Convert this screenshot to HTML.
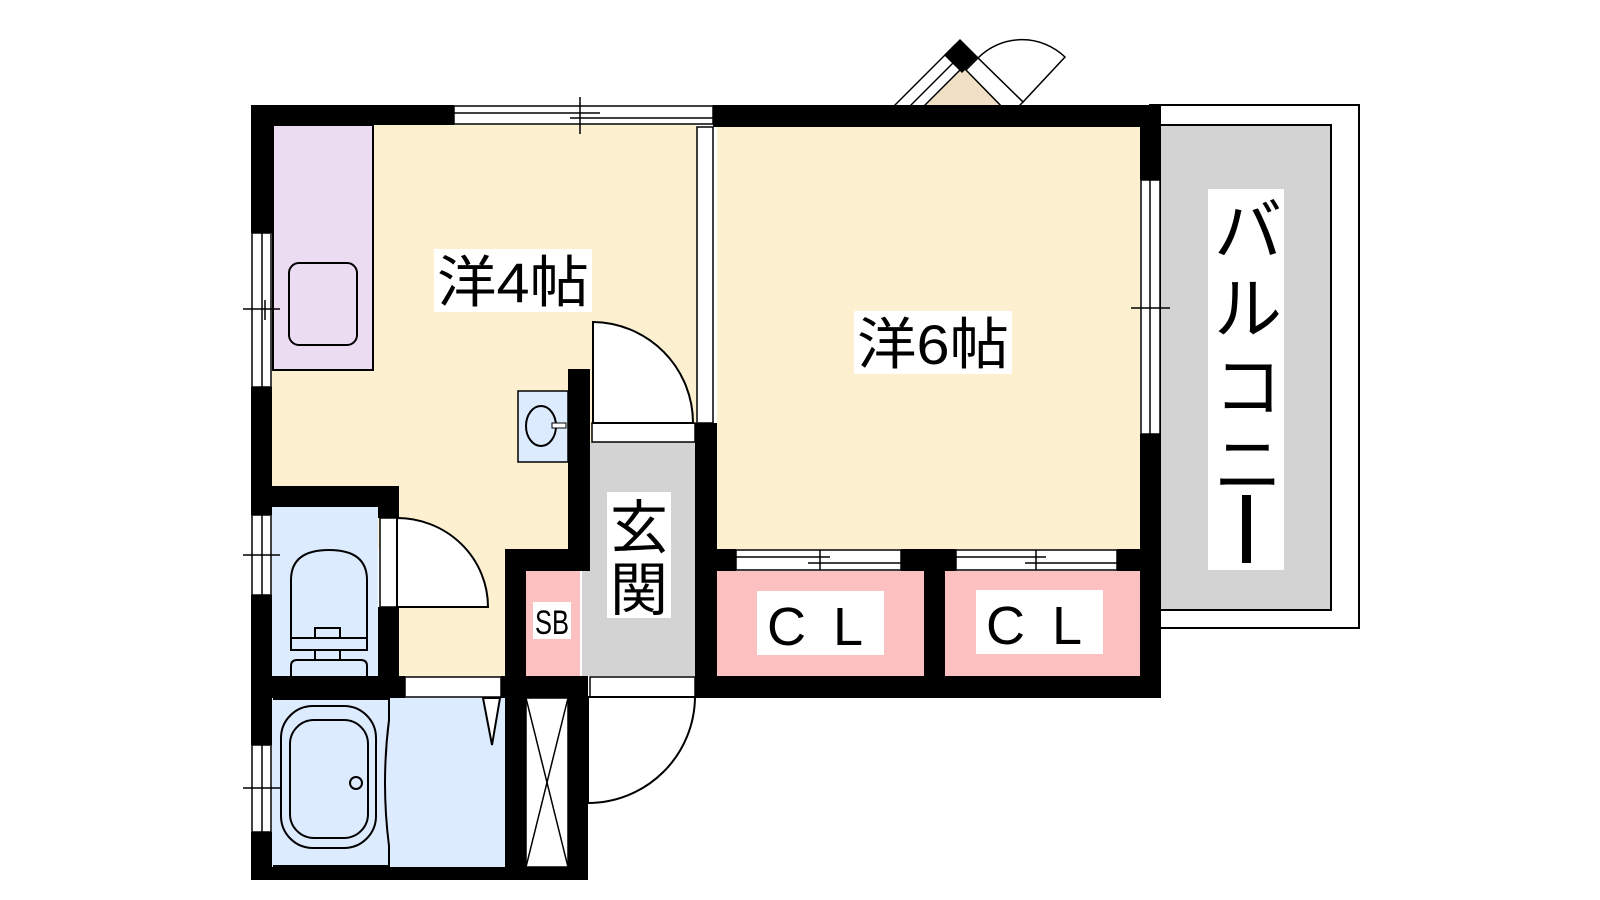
<!DOCTYPE html>
<html><head><meta charset="utf-8"><style>html,body{margin:0;padding:0;background:#fff;width:1600px;height:900px;overflow:hidden}svg{display:block}text{font-family:"Liberation Sans","Noto Sans CJK JP",sans-serif;fill:#000}</style></head><body>
<svg width="1600" height="900" viewBox="0 0 1600 900" xmlns="http://www.w3.org/2000/svg">
<!-- balcony -->
<rect x="1150" y="105" width="209" height="523" fill="#fff" stroke="#000" stroke-width="2"/>
<rect x="1160" y="125" width="171" height="485" fill="#d3d3d3" stroke="#000" stroke-width="2"/>
<!-- room fills -->
<rect x="272" y="125" width="425" height="424" fill="#fdf0d0"/>
<rect x="399" y="507" width="106" height="170" fill="#fdf0d0"/>
<rect x="717" y="127" width="423" height="422" fill="#fdf0d0"/>
<rect x="273" y="125" width="100" height="245" fill="#ecdcf2" stroke="#000" stroke-width="2"/>
<rect x="289" y="263" width="68" height="82" rx="10" fill="none" stroke="#000" stroke-width="2"/>
<rect x="582" y="442" width="113" height="234" fill="#d3d3d3"/>
<rect x="526" y="571" width="54" height="105" fill="#fdc0c0"/>
<rect x="717" y="571" width="207" height="105" fill="#fdc0c0"/>
<rect x="945" y="571" width="195" height="105" fill="#fdc0c0"/>
<rect x="272" y="507" width="106" height="169" fill="#dcebfd"/>
<rect x="272" y="698" width="233" height="169" fill="#dcebfd"/>
<rect x="526" y="698" width="42" height="169" fill="#fff" stroke="#000" stroke-width="1.5"/>
<line x1="526" y1="698" x2="568" y2="867" stroke="#000" stroke-width="1.5"/>
<line x1="568" y1="698" x2="526" y2="867" stroke="#000" stroke-width="1.5"/>
<!-- bay window -->
<polygon points="905,112 960,62 1012,112" fill="#f0e0c6"/>
<g stroke="#000" stroke-width="1.5">
<polygon points="895,105 955,45 970,60 910,120" fill="#fff"/>
<line x1="903" y1="113" x2="963" y2="53"/>
<path d="M978 58 A62 62 0 0 1 1065 57 L1023 102 Z" fill="#fff"/>
<polygon points="966,70 978,58 1023,102 1010,115" fill="#fff"/>
<polygon points="945,55 960,40 977,57 962,72" fill="#000"/>
</g>
<!-- walls -->
<g fill="#000">
<rect x="251" y="105" width="203" height="20"/>
<rect x="713" y="105" width="448" height="22"/>
<rect x="251" y="105" width="21" height="128"/>
<rect x="251" y="387" width="21" height="128"/>
<rect x="251" y="595" width="21" height="150"/>
<rect x="251" y="832" width="21" height="48"/>
<rect x="251" y="486" width="148" height="21"/>
<rect x="378" y="486" width="21" height="32"/>
<rect x="378" y="607" width="21" height="70"/>
<rect x="251" y="676" width="154" height="22"/>
<rect x="251" y="867" width="337" height="13"/>
<rect x="505" y="549" width="21" height="331"/>
<rect x="505" y="549" width="85" height="22"/>
<rect x="568" y="369" width="22" height="202"/>
<rect x="568" y="676" width="20" height="204"/>
<rect x="501" y="676" width="87" height="22"/>
<rect x="695" y="423" width="22" height="275"/>
<rect x="695" y="676" width="466" height="22"/>
<rect x="924" y="549" width="21" height="149"/>
<rect x="717" y="549" width="19" height="22"/>
<rect x="901" y="549" width="55" height="22"/>
<rect x="1117" y="549" width="44" height="22"/>
<rect x="1140" y="105" width="21" height="75"/>
<rect x="1140" y="434" width="21" height="264"/>
</g>
<!-- windows -->
<g fill="#fff" stroke="#000" stroke-width="1.5">
<rect x="454" y="106" width="259" height="18"/>
<rect x="252" y="233" width="19" height="154"/>
<rect x="252" y="515" width="19" height="80"/>
<rect x="252" y="745" width="19" height="87"/>
<rect x="1141" y="180" width="19" height="254"/>
<rect x="697" y="127" width="16" height="296"/>
<rect x="736" y="550" width="165" height="20"/>
<rect x="956" y="550" width="161" height="20"/>
<rect x="592" y="423" width="103" height="19"/>
<rect x="380" y="518" width="17" height="89"/>
<rect x="405" y="677" width="96" height="20"/>
<rect x="590" y="677" width="105" height="20"/>
</g>
<g stroke="#000" stroke-width="1.5" fill="none">
<line x1="454" y1="113" x2="600" y2="113"/><line x1="570" y1="118" x2="713" y2="118"/><line x1="580" y1="97" x2="580" y2="134"/>
<line x1="262" y1="233" x2="262" y2="387"/><line x1="243" y1="309" x2="280" y2="309"/><line x1="265" y1="300" x2="265" y2="320"/>
<line x1="262" y1="515" x2="262" y2="595"/><line x1="243" y1="555" x2="280" y2="555"/>
<line x1="262" y1="745" x2="262" y2="832"/><line x1="243" y1="788" x2="280" y2="788"/>
<line x1="1150" y1="180" x2="1150" y2="434"/><line x1="1131" y1="308" x2="1170" y2="308"/>
<line x1="736" y1="557" x2="830" y2="557"/><line x1="808" y1="563" x2="901" y2="563"/><line x1="820" y1="550" x2="820" y2="570"/>
<line x1="956" y1="557" x2="1046" y2="557"/><line x1="1025" y1="563" x2="1117" y2="563"/><line x1="1036" y1="550" x2="1036" y2="570"/>
</g>
<!-- doors -->
<g fill="#fff" stroke="#000" stroke-width="2">
<path d="M593 423 L593 322 A101 101 0 0 1 693 423 Z"/>
<path d="M397 607 L397 518 A91 89 0 0 1 488 607 Z"/>
<path d="M588 697 L695 697 A107 107 0 0 1 588 803 Z"/>
<path d="M483 698 L500 698 L492 745 Z"/>
</g>
<!-- basin -->
<rect x="518" y="391" width="50" height="71" fill="#dcebfd" stroke="#000" stroke-width="1.5"/>
<ellipse cx="541" cy="426" rx="15" ry="20" fill="none" stroke="#000" stroke-width="2"/>
<rect x="552" y="423" width="14" height="5" fill="#fff" stroke="#000" stroke-width="1"/>
<!-- toilet -->
<g fill="none" stroke="#000" stroke-width="2">
<path d="M291 638 L291 580 Q291 550 329 550 Q367 550 367 580 L367 638 Z"/>
<path d="M291 638 L315 638 L315 628 L340 628 L340 638 L367 638 L367 650 L291 650 Z"/>
<path d="M291 676 L291 666 Q291 660 297 660 L361 660 Q367 660 367 666 L367 676"/>
<line x1="315" y1="650" x2="315" y2="660"/><line x1="340" y1="650" x2="340" y2="660"/>
</g>
<!-- bath -->
<g fill="none" stroke="#000" stroke-width="2">
<path d="M273 699 L389 699 L389 720 Q381 783 389 846 L389 866 L273 866"/>
<rect x="281" y="706" width="95" height="142" rx="32"/>
<rect x="290" y="720" width="78" height="118" rx="24"/>
<circle cx="356" cy="783" r="6"/>
</g>
<!-- labels -->
<rect x="434" y="249" width="158" height="63" fill="#fff"/>
<text x="437" y="302" font-size="56" textLength="152" lengthAdjust="spacingAndGlyphs">洋4帖</text>
<rect x="854" y="311" width="158" height="63" fill="#fff"/>
<text x="857" y="364" font-size="56" textLength="152" lengthAdjust="spacingAndGlyphs">洋6帖</text>
<rect x="607" y="492" width="64" height="126" fill="#fff"/>
<text x="610" y="548" font-size="58">玄</text>
<text x="610" y="610" font-size="58">関</text>
<rect x="533" y="602" width="38" height="37" fill="#fff"/>
<text x="535" y="634" font-size="34" textLength="34" lengthAdjust="spacingAndGlyphs">SB</text>
<rect x="757" y="591" width="127" height="64" fill="#fff"/>
<text x="767" y="645" font-size="54">C</text><text x="833" y="645" font-size="54">L</text>
<rect x="976" y="590" width="127" height="64" fill="#fff"/>
<text x="986" y="644" font-size="54">C</text><text x="1052" y="644" font-size="54">L</text>
<rect x="1208" y="189" width="76" height="381" fill="#fff"/>
<text x="1214" y="255" font-size="68">バ</text>
<text x="1214" y="333" font-size="68">ル</text>
<text x="1214" y="411" font-size="68">コ</text>
<text x="1214" y="489" font-size="68">ニ</text>
<rect x="1242" y="495" width="9" height="68" fill="#000"/>
</svg>
</body></html>
